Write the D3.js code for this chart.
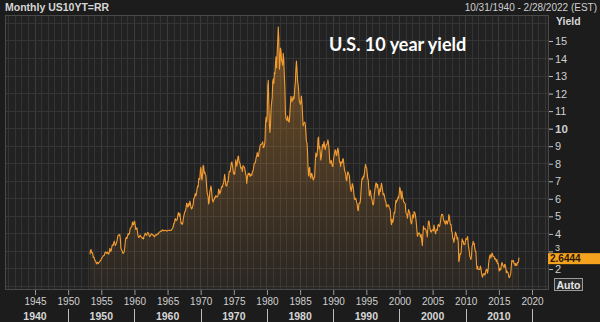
<!DOCTYPE html>
<html>
<head>
<meta charset="utf-8">
<script src="https://cdn.jsdelivr.net/npm/d3@7"></script>
<style>
  html, body { margin: 0; padding: 0; background: #1c1c1c; }
  svg { display: block; }
</style>
</head>
<body>
<svg id="chart" width="600" height="322"></svg>
<script>
// ---- chart text ----
const seriesName = "Monthly US10YT=RR";
const dateRange = "10/31/1940 - 2/28/2022 (EST)";
const chartTitle = "U.S. 10 year yield";
const axisTitle = "Yield";
const autoLabel = "Auto";

// ---- axis ticks ----
const yTicks = [2, 3, 4, 5, 6, 7, 8, 9, 10, 11, 12, 13, 14, 15];
const yearTicks = [1945, 1950, 1955, 1960, 1965, 1970, 1975, 1980, 1985, 1990, 1995, 2000, 2005, 2010, 2015, 2020];
const decadeLabels = [1940, 1950, 1960, 1970, 1980, 1990, 2000, 2010];

// ---- monthly 10-year yields (%), starting April 1953 ----
const firstMonth = "1953-04";
const lastValue = 2.6444;

const yields1950s = [
  2.83, 3.05, 3.11, 2.93, 2.95, 2.87, 2.66, 2.68, 2.59,
  2.48, 2.47, 2.37, 2.29, 2.37, 2.38, 2.30, 2.36, 2.38, 2.43, 2.48, 2.51,
  2.61, 2.65, 2.68, 2.75, 2.76, 2.78, 2.90, 2.97, 2.97, 2.88, 2.89, 2.96,
  2.90, 2.84, 2.96, 3.18, 3.07, 3.00, 3.11, 3.33, 3.38, 3.34, 3.49, 3.59,
  3.46, 3.34, 3.41, 3.48, 3.60, 3.80, 3.93, 3.93, 3.92, 3.97, 3.72, 3.21,
  3.09, 3.05, 2.98, 2.88, 2.92, 2.97, 3.20, 3.54, 3.76, 3.80, 3.74, 3.86,
  4.02, 3.96, 3.99, 4.12, 4.31, 4.34, 4.40, 4.43, 4.68, 4.53, 4.53, 4.69
];
const yields1960s = [
  4.72, 4.49, 4.25, 4.28, 4.35, 4.15, 3.90, 3.80, 3.80, 3.89, 3.93, 3.84,
  3.84, 3.78, 3.74, 3.78, 3.71, 3.88, 3.92, 4.04, 3.98, 3.92, 3.94, 4.06,
  4.08, 4.04, 3.93, 3.84, 3.87, 3.91, 4.01, 3.98, 3.98, 3.93, 3.92, 3.86,
  3.83, 3.92, 3.93, 3.97, 3.93, 3.99, 4.02, 4.00, 4.08, 4.11, 4.12, 4.13,
  4.17, 4.15, 4.22, 4.23, 4.20, 4.17, 4.19, 4.19, 4.20, 4.19, 4.15, 4.18,
  4.19, 4.21, 4.21, 4.20, 4.21, 4.21, 4.20, 4.25, 4.29, 4.35, 4.45, 4.62,
  4.61, 4.83, 4.87, 4.75, 4.78, 4.81, 5.02, 5.22, 5.18, 5.01, 5.16, 4.84,
  4.58, 4.63, 4.54, 4.59, 4.85, 5.02, 5.16, 5.28, 5.30, 5.48, 5.75, 5.70,
  5.53, 5.56, 5.74, 5.64, 5.87, 5.72, 5.50, 5.42, 5.46, 5.58, 5.70, 6.03,
  6.04, 6.19, 6.30, 6.17, 6.32, 6.57, 6.72, 6.69, 7.16, 7.10, 7.14, 7.65
];
const yields1970s = [
  7.79, 7.24, 7.07, 7.39, 7.91, 7.84, 7.46, 7.53, 7.39, 7.33, 6.84, 6.39,
  6.24, 6.11, 5.70, 5.83, 6.39, 6.52, 6.73, 6.58, 6.14, 5.93, 5.81, 5.93,
  5.95, 6.08, 6.07, 6.19, 6.13, 6.11, 6.11, 6.21, 6.55, 6.48, 6.28, 6.36,
  6.46, 6.64, 6.71, 6.67, 6.85, 6.90, 7.13, 7.40, 7.09, 6.79, 6.73, 6.74,
  6.99, 6.96, 7.21, 7.51, 7.58, 7.54, 7.81, 8.04, 8.10, 7.90, 7.68, 7.43,
  7.50, 7.39, 7.73, 8.23, 8.06, 7.86, 8.06, 8.40, 8.43, 8.14, 8.05, 8.00,
  7.74, 7.79, 7.73, 7.56, 7.90, 7.86, 7.83, 7.77, 7.59, 7.41, 7.29, 6.87,
  7.21, 7.39, 7.46, 7.37, 7.46, 7.28, 7.33, 7.40, 7.34, 7.52, 7.58, 7.69,
  7.96, 8.03, 8.04, 8.15, 8.35, 8.46, 8.64, 8.41, 8.42, 8.64, 8.81, 9.01,
  9.10, 9.10, 9.12, 9.18, 9.25, 8.91, 8.95, 9.03, 9.33, 10.30, 10.65, 10.39
];
const yields1980s = [
  10.80, 12.41, 12.75, 11.47, 10.18, 9.78, 10.25, 11.10, 11.51, 11.75, 12.68, 12.84,
  12.57, 13.19, 13.12, 13.68, 14.10, 13.47, 14.28, 14.94, 15.80, 15.15, 13.39, 13.72,
  14.59, 14.43, 13.86, 13.87, 13.62, 14.30, 13.95, 13.06, 12.34, 10.91, 10.55, 10.54,
  10.46, 10.72, 10.51, 10.40, 10.38, 10.85, 11.38, 11.85, 11.65, 11.54, 11.69, 11.83,
  11.67, 11.84, 12.32, 12.63, 13.41, 13.85, 13.36, 12.72, 12.52, 12.16, 11.57, 11.50,
  11.38, 11.51, 11.86, 11.43, 10.85, 10.16, 10.31, 10.33, 10.37, 10.24, 9.78, 9.26,
  9.19, 8.70, 7.78, 7.30, 7.71, 7.80, 7.30, 7.17, 7.45, 7.43, 7.25, 7.11,
  7.08, 7.25, 7.25, 8.02, 8.61, 8.40, 8.45, 8.76, 9.42, 9.52, 8.86, 8.99,
  8.67, 8.21, 8.37, 8.72, 9.09, 8.92, 9.06, 9.26, 8.98, 8.80, 8.96, 9.11,
  9.09, 9.17, 9.36, 9.18, 8.86, 8.28, 8.02, 8.11, 8.19, 8.01, 7.87, 7.84
];
const yields1990s = [
  8.21, 8.47, 8.59, 8.79, 8.76, 8.48, 8.47, 8.75, 8.89, 8.72, 8.39, 8.08,
  8.09, 7.85, 8.11, 8.04, 8.07, 8.28, 8.27, 7.90, 7.65, 7.53, 7.42, 7.09,
  7.03, 7.34, 7.54, 7.48, 7.39, 7.26, 6.84, 6.59, 6.42, 6.59, 6.87, 6.77,
  6.60, 6.26, 5.98, 5.97, 6.04, 5.96, 5.81, 5.68, 5.36, 5.33, 5.72, 5.77,
  5.75, 5.97, 6.48, 6.97, 7.18, 7.10, 7.30, 7.24, 7.46, 7.74, 7.96, 7.81,
  7.78, 7.47, 7.20, 7.06, 6.63, 6.17, 6.28, 6.49, 6.20, 6.04, 5.93, 5.71,
  5.65, 5.81, 6.27, 6.51, 6.74, 6.91, 6.87, 6.64, 6.83, 6.53, 6.20, 6.30,
  6.58, 6.42, 6.69, 6.89, 6.71, 6.49, 6.22, 6.30, 6.21, 6.03, 5.88, 5.81,
  5.54, 5.57, 5.65, 5.64, 5.65, 5.50, 5.46, 5.34, 4.81, 4.53, 4.83, 4.65,
  4.72, 5.00, 5.23, 5.18, 5.54, 5.90, 5.79, 5.94, 5.92, 6.11, 6.03, 6.28
];
const yields2000s = [
  6.66, 6.52, 6.26, 5.99, 6.44, 6.10, 6.05, 5.83, 5.80, 5.74, 5.72, 5.24,
  5.16, 5.10, 4.89, 5.14, 5.39, 5.28, 5.24, 4.97, 4.73, 4.57, 4.65, 5.09,
  5.04, 4.91, 5.28, 5.21, 5.16, 4.93, 4.65, 4.26, 3.87, 3.94, 4.05, 4.03,
  4.05, 3.90, 3.81, 3.96, 3.57, 3.33, 3.98, 4.45, 4.27, 4.29, 4.30, 4.27,
  4.15, 4.08, 3.83, 4.35, 4.72, 4.73, 4.50, 4.28, 4.13, 4.10, 4.19, 4.23,
  4.22, 4.17, 4.50, 4.34, 4.14, 4.00, 4.18, 4.26, 4.20, 4.46, 4.54, 4.47,
  4.42, 4.57, 4.72, 4.99, 5.11, 5.11, 5.09, 4.88, 4.72, 4.73, 4.60, 4.56,
  4.76, 4.72, 4.56, 4.69, 4.75, 5.10, 5.00, 4.67, 4.52, 4.53, 4.15, 4.10,
  3.74, 3.74, 3.51, 3.68, 3.88, 4.10, 4.01, 3.89, 3.69, 3.81, 3.53, 2.42,
  2.52, 2.87, 2.82, 2.93, 3.29, 3.72, 3.56, 3.59, 3.40, 3.39, 3.40, 3.59
];
const yields2010s = [
  3.73, 3.69, 3.73, 3.85, 3.42, 3.20, 3.01, 2.70, 2.65, 2.54, 2.76, 3.29,
  3.39, 3.58, 3.41, 3.46, 3.17, 3.00, 3.00, 2.30, 1.98, 2.15, 2.01, 1.98,
  1.97, 1.97, 2.17, 2.05, 1.80, 1.62, 1.53, 1.68, 1.72, 1.75, 1.65, 1.72,
  1.91, 1.98, 1.96, 1.76, 1.93, 2.30, 2.58, 2.74, 2.81, 2.62, 2.72, 2.90,
  2.86, 2.71, 2.72, 2.71, 2.56, 2.60, 2.54, 2.42, 2.53, 2.30, 2.33, 2.21,
  1.88, 1.98, 2.04, 1.94, 2.20, 2.36, 2.32, 2.17, 2.17, 2.07, 2.26, 2.24,
  2.09, 1.78, 1.89, 1.81, 1.81, 1.64, 1.50, 1.56, 1.63, 1.76, 2.14, 2.49,
  2.43, 2.42, 2.48, 2.30, 2.30, 2.19, 2.32, 2.21, 2.20, 2.36, 2.35, 2.40,
  lastValue
];

// ---- assemble the monthly series ----
const parseMonth = d3.timeParse("%Y-%m");
const start = d3.timeDay.offset(parseMonth(firstMonth), 14);
const allYields = [].concat(yields1950s, yields1960s, yields1970s, yields1980s,
                            yields1990s, yields2000s, yields2010s);
const series = allYields.map((v, i) => ({ date: d3.timeMonth.offset(start, i), value: v }));

// ---- layout ----
const W = 600, H = 322;
const plot = { left: 5, right: 549, top: 15, bottom: 290 };
const svg = d3.select("#chart");

const x = d3.scaleTime()
  .domain([new Date(1940, 0, 1), new Date(2020, 0, 1)])
  .range([1.9, 532]);
const y = d3.scaleLinear()
  .domain([0.8, 16.48])
  .range([plot.bottom, plot.top]);

svg.append("rect").attr("width", W).attr("height", H).attr("fill", "#1c1c1c");

// plot background
svg.append("rect")
  .attr("x", plot.left).attr("y", plot.top)
  .attr("width", plot.right - plot.left).attr("height", plot.bottom - plot.top)
  .attr("fill", "#222222");

const defs = svg.append("defs");
defs.append("clipPath").attr("id", "plotClip")
  .append("rect")
  .attr("x", plot.left).attr("y", plot.top)
  .attr("width", plot.right - plot.left).attr("height", plot.bottom - plot.top);

const grad = defs.append("linearGradient")
  .attr("id", "areaFill")
  .attr("gradientUnits", "userSpaceOnUse")
  .attr("x1", 0).attr("y1", plot.top).attr("x2", 0).attr("y2", plot.bottom);
grad.append("stop").attr("offset", "0%").attr("stop-color", "#e8942c").attr("stop-opacity", 0.42);
grad.append("stop").attr("offset", "55%").attr("stop-color", "#d88a2c").attr("stop-opacity", 0.22);
grad.append("stop").attr("offset", "100%").attr("stop-color", "#c8802c").attr("stop-opacity", 0.04);

const gPlot = svg.append("g").attr("clip-path", "url(#plotClip)");

// vertical grid: one line per year
const gridYears = d3.range(1940, 2024);
gPlot.append("g").selectAll("line")
  .data(gridYears)
  .join("line")
  .attr("x1", d => x(new Date(d, 0, 1))).attr("x2", d => x(new Date(d, 0, 1)))
  .attr("y1", plot.top).attr("y2", plot.bottom)
  .attr("stroke", d => d % 5 === 0 ? "#3c3c3c" : "#333333")
  .attr("stroke-width", 1)
  .attr("shape-rendering", "crispEdges");

// horizontal grid: one line per percentage point
gPlot.append("g").selectAll("line")
  .data(d3.range(1, 17))
  .join("line")
  .attr("x1", plot.left).attr("x2", plot.right)
  .attr("y1", d => y(d)).attr("y2", d => y(d))
  .attr("stroke", "#353535")
  .attr("shape-rendering", "crispEdges");

// area + line
const area = d3.area()
  .x(d => x(d.date))
  .y0(plot.bottom)
  .y1(d => y(d.value));
const line = d3.line()
  .x(d => x(d.date))
  .y(d => y(d.value));

gPlot.append("path").datum(series)
  .attr("d", area)
  .attr("fill", "url(#areaFill)");
gPlot.append("path").datum(series)
  .attr("d", line)
  .attr("fill", "none")
  .attr("stroke", "#f39c32")
  .attr("stroke-width", 1.1)
  .attr("stroke-linejoin", "round");

// plot frame
svg.append("rect")
  .attr("x", plot.left + 0.5).attr("y", plot.top + 0.5)
  .attr("width", plot.right - plot.left - 1).attr("height", plot.bottom - plot.top - 1)
  .attr("fill", "none").attr("stroke", "#4a4a4a")
  .attr("shape-rendering", "crispEdges");

// header texts
const font = "'Liberation Sans', Arial, sans-serif";
svg.append("text")
  .attr("x", 5).attr("y", 11)
  .attr("font-family", font).attr("font-size", 10.5).attr("font-weight", "bold")
  .attr("fill", "#d6d6d6")
  .text(seriesName);
svg.append("text")
  .attr("x", 597).attr("y", 11).attr("text-anchor", "end")
  .attr("font-family", font).attr("font-size", 10)
  .attr("fill", "#cfcfcf")
  .text(dateRange);

// chart title
svg.append("text")
  .attr("x", 329).attr("y", 51)
  .attr("font-family", "Lato, 'Open Sans', sans-serif").attr("font-size", 18).attr("font-weight", "bold")
  .attr("fill", "#ffffff")
  .text(chartTitle);

// right axis
const yAxis = d3.axisRight(y)
  .tickValues(yTicks)
  .tickSize(4)
  .tickPadding(2)
  .tickFormat(d3.format("d"));
const gy = svg.append("g")
  .attr("transform", `translate(${plot.right},0)`)
  .call(yAxis);
gy.select(".domain").remove();
gy.selectAll(".tick line").attr("stroke", "#bdbdbd");
gy.selectAll(".tick text")
  .attr("fill", "#cfcfcf")
  .attr("font-family", font)
  .attr("font-size", d => d === 10 ? 11.5 : 11)
  .attr("font-weight", d => d === 10 ? "bold" : "normal");
// the "3" label sits just above the last-value tag
gy.selectAll(".tick text").filter(d => d === 3)
  .attr("font-size", 9).attr("dy", "-0.12em");

svg.append("text")
  .attr("x", 556).attr("y", 25)
  .attr("font-family", font).attr("font-size", 10.5).attr("font-weight", "bold")
  .attr("fill", "#d6d6d6")
  .text(axisTitle);

// last value tag
const tagY = y(lastValue);
svg.append("rect")
  .attr("x", 548).attr("y", tagY - 4.5)
  .attr("width", 52).attr("height", 11)
  .attr("fill", "#f5a21f");
svg.append("text")
  .attr("x", 550).attr("y", tagY + 4.5)
  .attr("font-family", font).attr("font-size", 10).attr("font-weight", "bold")
  .attr("fill", "#2a1a05")
  .text(d3.format(".4f")(lastValue));

// "Auto" button
svg.append("rect")
  .attr("x", 554.5).attr("y", 278.5)
  .attr("width", 28).attr("height", 12)
  .attr("fill", "#2a2a2a").attr("stroke", "#9a9a9a");
svg.append("text")
  .attr("x", 568.5).attr("y", 288.5).attr("text-anchor", "middle")
  .attr("font-family", font).attr("font-size", 10.5).attr("font-weight", "bold")
  .attr("fill", "#e6e6e6")
  .text(autoLabel);

// bottom axis: 5-year ticks
const xAxis = d3.axisBottom(x)
  .tickValues(yearTicks.map(yr => new Date(yr, 0, 1)))
  .tickSize(5)
  .tickPadding(3)
  .tickFormat(d3.timeFormat("%Y"));
const gx = svg.append("g")
  .attr("transform", `translate(0,${plot.bottom})`)
  .call(xAxis);
gx.select(".domain").remove();
gx.selectAll(".tick line").attr("stroke", "#9a9a9a");
gx.selectAll(".tick text")
  .attr("fill", "#cfcfcf")
  .attr("font-family", font)
  .attr("font-size", 10);

// decade row
const decadeBounds = decadeLabels.concat([2020]);
svg.append("g").selectAll("line")
  .data(decadeBounds.slice(1))
  .join("line")
  .attr("x1", d => Math.round(x(new Date(d, 0, 1))) + 0.5)
  .attr("x2", d => Math.round(x(new Date(d, 0, 1))) + 0.5)
  .attr("y1", 309).attr("y2", 322)
  .attr("stroke", "#bdbdbd");
svg.append("g").selectAll("text")
  .data(decadeLabels)
  .join("text")
  .attr("x", d => (x(new Date(d, 0, 1)) + x(new Date(d + 10, 0, 1))) / 2)
  .attr("y", 320)
  .attr("text-anchor", "middle")
  .attr("font-family", font).attr("font-size", 10.5).attr("font-weight", "bold")
  .attr("fill", "#d6d6d6")
  .text(d => d);
</script>
</body>
</html>
